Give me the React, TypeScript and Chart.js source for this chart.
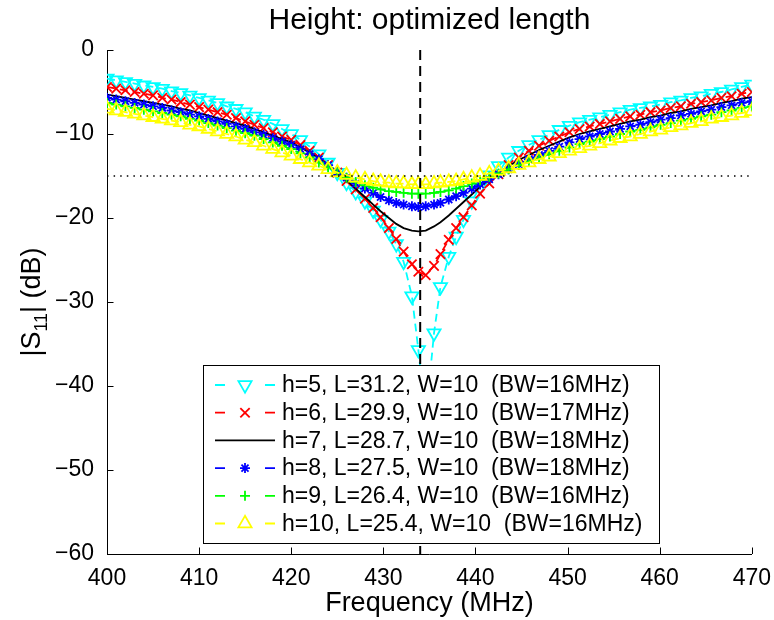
import React, { useEffect, useRef } from 'react';
import { Chart, registerables } from 'chart.js';

Chart.register(...registerables);

// ---------- data ----------
const freq = [
  400, 401, 402, 403, 404, 405, 406, 407, 408, 409,
  410, 411, 412, 413, 414, 415, 416, 417, 418, 419,
  420, 421, 422, 423, 424, 425, 426, 427, 428,
  428.9, 429.7, 430.6, 431.4, 432.2, 433.1, 433.8, 434.6, 435.5, 436.2,
  437.1, 437.9, 438.7, 439.6, 440.5, 441.5, 442.5, 443.6, 444.7, 445.8,
  446.9, 448, 449.1, 450.2, 451.3, 452.4, 453.5, 454.6, 455.7, 456.8,
  457.9, 459, 460.1, 461.2, 462.3, 463.4, 464.5, 465.6, 466.7, 467.8,
  468.9, 470,
];

const s11H5 = [
  -3.4, -3.6, -3.8, -4.0, -4.2, -4.4, -4.6, -4.9, -5.1, -5.4,
  -5.7, -6.0, -6.3, -6.7, -7.0, -7.4, -7.9, -8.3, -8.8, -9.4,
  -10.0, -10.7, -11.5, -12.4, -13.4, -14.6, -15.8, -16.9, -18.0,
  -19.1, -20.2, -21.6, -23.1, -25.2, -29.3, -35.7, -44.0, -33.7, -28.2,
  -24.6, -22.2, -20.2, -18.0, -16.3, -14.9, -13.8, -12.8, -12.0, -11.3,
  -10.7, -10.1, -9.5, -9.0, -8.6, -8.3, -8.0, -7.7, -7.4, -7.1,
  -6.9, -6.7, -6.5, -6.2, -6.0, -5.7, -5.5, -5.2, -5.0, -4.7,
  -4.4, -4.1,
];

const s11H6 = [
  -4.4, -4.6, -4.8, -5.0, -5.2, -5.4, -5.7, -5.9, -6.2, -6.5,
  -6.8, -7.1, -7.4, -7.7, -8.1, -8.5, -8.9, -9.3, -9.8, -10.3,
  -10.7, -11.3, -12.0, -12.8, -13.7, -14.6, -15.6, -16.6, -17.7,
  -18.8, -19.9, -21.2, -22.5, -24.0, -25.5, -26.4, -26.8, -25.7, -24.3,
  -22.6, -21.2, -19.9, -18.5, -17.1, -15.9, -14.8, -13.7, -12.8, -12.0,
  -11.4, -10.8, -10.3, -9.8, -9.4, -9.1, -8.8, -8.5, -8.2, -7.9,
  -7.7, -7.4, -7.2, -6.9, -6.7, -6.4, -6.2, -6.0, -5.7, -5.5,
  -5.2, -5.0,
];

const s11H7 = [
  -5.3, -5.5, -5.7, -5.9, -6.1, -6.3, -6.5, -6.7, -7.0, -7.2,
  -7.5, -7.8, -8.1, -8.4, -8.7, -9.0, -9.4, -9.8, -10.2, -10.6,
  -11.0, -11.6, -12.2, -12.9, -13.7, -14.6, -15.5, -16.5, -17.5,
  -18.4, -19.2, -20.0, -20.7, -21.2, -21.5, -21.6, -21.5, -21.0, -20.5,
  -19.7, -18.9, -18.1, -17.2, -16.3, -15.4, -14.6, -13.8, -13.1, -12.5,
  -11.9, -11.4, -10.9, -10.4, -10.0, -9.7, -9.4, -9.1, -8.8, -8.5,
  -8.3, -8.0, -7.8, -7.5, -7.3, -7.0, -6.8, -6.6, -6.3, -6.1,
  -5.8, -5.6,
];

const s11H8 = [
  -5.7, -5.9, -6.1, -6.3, -6.5, -6.7, -6.9, -7.2, -7.4, -7.7,
  -7.9, -8.2, -8.5, -8.8, -9.1, -9.4, -9.8, -10.1, -10.5, -10.9,
  -11.3, -11.8, -12.4, -13.0, -13.7, -14.5, -15.2, -15.9, -16.5,
  -17.0, -17.5, -17.9, -18.2, -18.4, -18.6, -18.7, -18.6, -18.4, -18.2,
  -17.8, -17.4, -17.0, -16.5, -16.0, -15.4, -14.8, -14.2, -13.6, -13.0,
  -12.5, -12.0, -11.5, -11.0, -10.6, -10.3, -10.0, -9.7, -9.4, -9.1,
  -8.9, -8.6, -8.3, -8.1, -7.8, -7.6, -7.3, -7.1, -6.8, -6.6,
  -6.3, -6.1,
];

const s11H9 = [
  -6.3, -6.5, -6.7, -6.9, -7.1, -7.3, -7.5, -7.7, -7.9, -8.2,
  -8.4, -8.7, -9.0, -9.3, -9.6, -9.9, -10.2, -10.6, -11.0, -11.4,
  -11.8, -12.3, -12.8, -13.4, -14.0, -14.6, -15.2, -15.7, -16.1,
  -16.4, -16.6, -16.8, -16.9, -17.0, -17.1, -17.1, -17.1, -17.0, -16.9,
  -16.7, -16.5, -16.2, -15.9, -15.5, -15.1, -14.7, -14.2, -13.7, -13.3,
  -12.9, -12.4, -12.0, -11.6, -11.2, -10.9, -10.6, -10.3, -10.0, -9.7,
  -9.5, -9.2, -8.9, -8.7, -8.4, -8.2, -7.9, -7.7, -7.4, -7.2,
  -6.9, -6.7,
];

const s11H10 = [
  -7.0, -7.2, -7.4, -7.6, -7.8, -8.0, -8.2, -8.4, -8.6, -8.9,
  -9.1, -9.4, -9.7, -10.0, -10.3, -10.7, -11.0, -11.4, -11.8, -12.2,
  -12.6, -13.0, -13.4, -13.8, -14.2, -14.6, -14.9, -15.2, -15.4,
  -15.6, -15.7, -15.8, -15.9, -15.9, -16.0, -16.0, -16.0, -15.9, -15.8,
  -15.7, -15.6, -15.4, -15.2, -15.0, -14.7, -14.4, -14.1, -13.7, -13.4,
  -13.0, -12.7, -12.3, -12.0, -11.7, -11.4, -11.1, -10.8, -10.5, -10.3,
  -10.0, -9.7, -9.5, -9.2, -9.0, -8.7, -8.5, -8.2, -8.0, -7.8,
  -7.5, -7.3,
];

const seriesLabels = [
  'h=5, L=31.2, W=10  (BW=16MHz)',
  'h=6, L=29.9, W=10  (BW=17MHz)',
  'h=7, L=28.7, W=10  (BW=18MHz)',
  'h=8, L=27.5, W=10  (BW=18MHz)',
  'h=9, L=26.4, W=10  (BW=16MHz)',
  'h=10, L=25.4, W=10  (BW=16MHz)',
];

const xTickValues = [400, 410, 420, 430, 440, 450, 460, 470];
const xTickLabels = ['400', '410', '420', '430', '440', '450', '460', '470'];
const yTickValues = [0, -10, -20, -30, -40, -50, -60];
const yTickLabels = ['0', '\u221210', '\u221220', '\u221230', '\u221240', '\u221250', '\u221260'];

const centerFrequency = 434;
const thresholdDb = -15;

const titleText = 'Height: optimized length';
const xAxisTitle = 'Frequency (MHz)';

// ---------- styles ----------
const FONT = '"Liberation Sans", Arial, Helvetica, sans-serif';

type Marker = 'triDown' | 'x' | 'none' | 'star' | 'plus' | 'triUp';
const seriesStyles: { color: string; marker: Marker; dashed: boolean }[] = [
  { color: '#00FFFF', marker: 'triDown', dashed: true },
  { color: '#FF0000', marker: 'x', dashed: true },
  { color: '#000000', marker: 'none', dashed: false },
  { color: '#0000FF', marker: 'star', dashed: true },
  { color: '#00FF00', marker: 'plus', dashed: true },
  { color: '#FFFF00', marker: 'triUp', dashed: true },
];

const TRI_R = 7.6;
const X_R = 6.6;
const STAR_R = 5.0;
const PLUS_R = 5.0;

function markerProps(m: Marker) {
  switch (m) {
    case 'triDown':
      return { pointStyle: 'triangle', pointRadius: TRI_R, pointRotation: 180 };
    case 'triUp':
      return { pointStyle: 'triangle', pointRadius: TRI_R, pointRotation: 0 };
    case 'x':
      return { pointStyle: 'crossRot', pointRadius: X_R, pointRotation: 0 };
    case 'star':
      return { pointStyle: 'star', pointRadius: STAR_R, pointRotation: 0 };
    case 'plus':
      return { pointStyle: 'cross', pointRadius: PLUS_R, pointRotation: 0 };
    default:
      return { pointStyle: false as any, pointRadius: 0, pointRotation: 0 };
  }
}

function drawMarker(ctx: CanvasRenderingContext2D, m: Marker, x: number, y: number) {
  const s60 = Math.sin(Math.PI / 3);
  ctx.beginPath();
  if (m === 'triDown') {
    const r = TRI_R;
    ctx.moveTo(x, y + r);
    ctx.lineTo(x - r * s60, y - r / 2);
    ctx.lineTo(x + r * s60, y - r / 2);
    ctx.closePath();
  } else if (m === 'triUp') {
    const r = TRI_R;
    ctx.moveTo(x, y - r);
    ctx.lineTo(x - r * s60, y + r / 2);
    ctx.lineTo(x + r * s60, y + r / 2);
    ctx.closePath();
  } else if (m === 'x') {
    const d = X_R * Math.SQRT1_2;
    ctx.moveTo(x - d, y - d); ctx.lineTo(x + d, y + d);
    ctx.moveTo(x + d, y - d); ctx.lineTo(x - d, y + d);
  } else if (m === 'star') {
    const r = STAR_R; const d = r * Math.SQRT1_2;
    ctx.moveTo(x - r, y); ctx.lineTo(x + r, y);
    ctx.moveTo(x, y - r); ctx.lineTo(x, y + r);
    ctx.moveTo(x - d, y - d); ctx.lineTo(x + d, y + d);
    ctx.moveTo(x + d, y - d); ctx.lineTo(x - d, y + d);
  } else if (m === 'plus') {
    const r = PLUS_R;
    ctx.moveTo(x - r, y); ctx.lineTo(x + r, y);
    ctx.moveTo(x, y - r); ctx.lineTo(x, y + r);
  }
  ctx.stroke();
}

const decorPlugin = {
  id: 'matlabDecor',
  afterDatasetsDraw(chart: any) {
    const { ctx, chartArea, scales } = chart;
    const xs = scales.x;
    const ys = scales.y;
    ctx.save();

    // inward ticks
    ctx.strokeStyle = '#000';
    ctx.lineWidth = 1;
    ctx.setLineDash([]);
    ctx.beginPath();
    xTickValues.forEach((v) => {
      const px = Math.round(xs.getPixelForValue(v)) + 0.5;
      ctx.moveTo(px, chartArea.bottom);
      ctx.lineTo(px, chartArea.bottom - 6.5);
    });
    yTickValues.forEach((v) => {
      const py = Math.round(ys.getPixelForValue(v)) + 0.5;
      ctx.moveTo(chartArea.left, py);
      ctx.lineTo(chartArea.left + 6.5, py);
    });
    ctx.stroke();

    // legend box
    const lx = 203.5, ly = 365.5, lw = 456, lh = 178;
    ctx.fillStyle = '#fff';
    ctx.fillRect(lx, ly, lw, lh);
    ctx.strokeStyle = '#000';
    ctx.lineWidth = 1;
    ctx.strokeRect(lx, ly, lw, lh);

    seriesLabels.forEach((label, i) => {
      const st = seriesStyles[i];
      const cy = 385 + i * 27.7;
      ctx.strokeStyle = st.color;
      ctx.lineWidth = 1.8;
      ctx.setLineDash([]);
      ctx.beginPath();
      if (st.dashed) {
        ctx.moveTo(215, cy); ctx.lineTo(225, cy);
        ctx.moveTo(265, cy); ctx.lineTo(275, cy);
      } else {
        ctx.moveTo(215, cy); ctx.lineTo(275, cy);
      }
      ctx.stroke();
      ctx.lineWidth = 1.8;
      drawMarker(ctx, st.marker, 245, cy);
      ctx.fillStyle = '#000';
      ctx.font = `23px ${FONT}`;
      ctx.textAlign = 'left';
      ctx.textBaseline = 'middle';
      ctx.fillText(label, 282, cy + 1);
    });

    // title
    ctx.fillStyle = '#000';
    ctx.font = `30px ${FONT}`;
    ctx.textAlign = 'center';
    ctx.textBaseline = 'alphabetic';
    ctx.fillText(titleText, (chartArea.left + chartArea.right) / 2, 29);

    // x axis title
    ctx.font = `27px ${FONT}`;
    ctx.fillText(xAxisTitle, (chartArea.left + chartArea.right) / 2, 611);

    // y axis title with subscript
    const cyMid = (chartArea.top + chartArea.bottom) / 2;
    ctx.translate(40, cyMid);
    ctx.rotate(-Math.PI / 2);
    const big = `27px ${FONT}`;
    const small = `18px ${FONT}`;
    ctx.font = big;
    const w1 = ctx.measureText('|S').width;
    const w3 = ctx.measureText('| (dB)').width;
    ctx.font = small;
    const w2 = ctx.measureText('11').width;
    let x0 = -(w1 + w2 + w3) / 2;
    ctx.textAlign = 'left';
    ctx.font = big;
    ctx.fillText('|S', x0, 0);
    x0 += w1;
    ctx.font = small;
    ctx.fillText('11', x0, 7);
    x0 += w2;
    ctx.font = big;
    ctx.fillText('| (dB)', x0, 0);

    ctx.restore();
  },
};

export default function App() {
  const canvasRef = useRef<HTMLCanvasElement>(null);

  useEffect(() => {
    const canvas = canvasRef.current;
    if (!canvas) return;
    Chart.defaults.font.family = FONT;
    Chart.defaults.color = '#000';

    const allSeries = [s11H5, s11H6, s11H7, s11H8, s11H9, s11H10];
    const datasets: any[] = allSeries.map((vals, i) => {
      const st = seriesStyles[i];
      return {
        label: seriesLabels[i],
        data: freq.map((f, j) => ({ x: f, y: vals[j] })),
        borderColor: st.color,
        borderWidth: 1.8,
        borderDash: st.dashed ? [8, 5] : [],
        pointBorderColor: st.color,
        pointBackgroundColor: 'rgba(0,0,0,0)',
        pointBorderWidth: 1.8,
        ...markerProps(st.marker),
        fill: false,
        tension: 0,
        order: 10 - i,
      };
    });

    datasets.push({
      label: 'center',
      data: [{ x: centerFrequency, y: 0 }, { x: centerFrequency, y: -60 }],
      borderColor: '#000',
      borderWidth: 2,
      borderDash: [10, 6],
      pointRadius: 0,
      fill: false,
      order: 1,
    });
    datasets.push({
      label: 'threshold',
      data: [{ x: 400, y: thresholdDb }, { x: 470, y: thresholdDb }],
      borderColor: '#000',
      borderWidth: 1.4,
      borderDash: [1.5, 5.1],
      pointRadius: 0,
      fill: false,
      order: 0,
    });

    const chart = new Chart(canvas, {
      type: 'line',
      data: { datasets },
      options: {
        responsive: false,
        animation: false,
        devicePixelRatio: 1,
        layout: { padding: { top: 50, right: 22, bottom: 0, left: 0 } },
        plugins: {
          legend: { display: false },
          title: { display: false },
          tooltip: { enabled: false },
        },
        scales: {
          x: {
            type: 'linear',
            min: 400,
            max: 470,
            grid: { display: false },
            border: { display: true, color: '#000', width: 1 },
            afterBuildTicks: (scale: any) => {
              scale.ticks = xTickValues.map((v) => ({ value: v }));
            },
            afterFit: (scale: any) => {
              scale.height = 66;
            },
            ticks: {
              autoSkip: false,
              maxRotation: 0,
              padding: 3,
              color: '#000',
              font: { size: 23 },
              callback: (_v: any, i: number) => xTickLabels[i],
            },
          },
          y: {
            type: 'linear',
            min: -60,
            max: 0,
            grid: { display: false },
            border: { display: true, color: '#000', width: 1 },
            afterBuildTicks: (scale: any) => {
              scale.ticks = yTickValues.map((v) => ({ value: v }));
            },
            afterFit: (scale: any) => {
              scale.width = 107;
            },
            ticks: {
              autoSkip: false,
              padding: 5,
              color: '#000',
              font: { size: 23 },
              callback: (_v: any, i: number) => yTickLabels[i],
            },
          },
        },
      },
      plugins: [decorPlugin],
    });

    return () => chart.destroy();
  }, []);

  return (
    <div style={{ position: 'absolute', left: 0, top: 0, width: 774, height: 620, background: '#fff' }}>
      <canvas ref={canvasRef} width={774} height={620} style={{ display: 'block' }} />
    </div>
  );
}
